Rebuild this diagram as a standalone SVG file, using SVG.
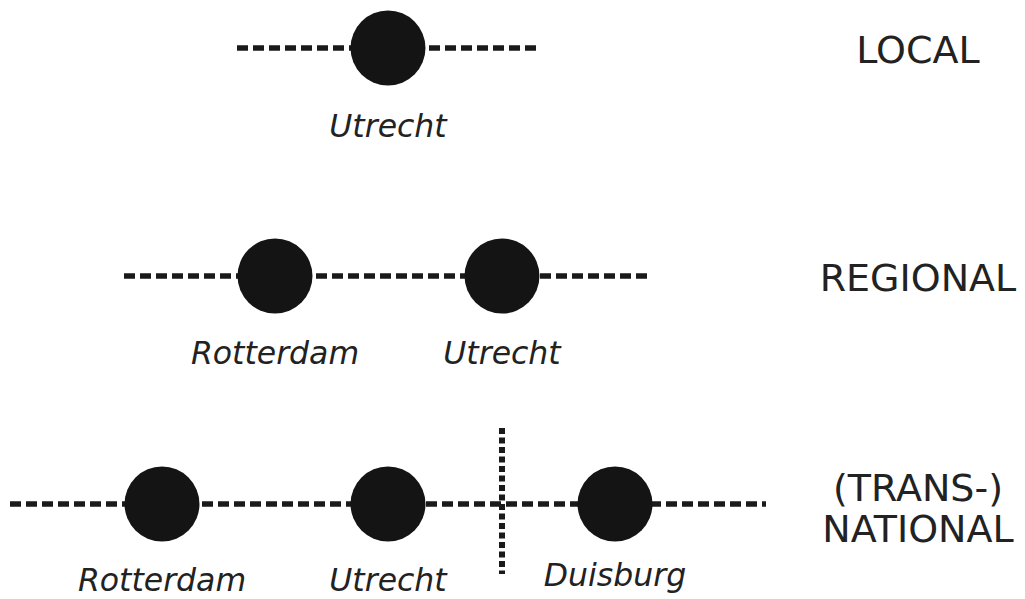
<svg xmlns="http://www.w3.org/2000/svg" width="1025" height="599" viewBox="0 0 1025 599">
  <style>
    .dash { stroke: #1a1a1a; stroke-width: 5.5; stroke-dasharray: 11 5; fill: none; }
    .dot { stroke: #1a1a1a; stroke-width: 6; stroke-dasharray: 6 3.5; fill: none; }
    .city { fill: #141414; }
    .name { font-family: "DejaVu Sans", Verdana, sans-serif; font-style: italic; font-size: 31.5px; fill: #222; text-anchor: middle; }
    .scale { font-family: "DejaVu Sans", Verdana, sans-serif; font-size: 38px; fill: #222; text-anchor: middle; }
  </style>

  <!-- connectors: rail lines and the border -->
  <g id="connectors">
    <line class="dash" x1="237" y1="48" x2="538" y2="48"/>
    <line class="dash" x1="124" y1="276" x2="652" y2="276"/>
    <line class="dash" x1="10" y1="504" x2="766" y2="504"/>
    <line id="border" class="dot" x1="502" y1="428" x2="502" y2="574"/>
  </g>

  <!-- local level -->
  <g id="local-utrecht">
    <circle class="city" cx="388" cy="48" r="37.5"/>
    <text class="name" x="388" y="137">Utrecht</text>
  </g>

  <!-- regional level -->
  <g id="regional-rotterdam">
    <circle class="city" cx="275" cy="276" r="37.5"/>
    <text class="name" x="275" y="364">Rotterdam</text>
  </g>
  <g id="regional-utrecht">
    <circle class="city" cx="502" cy="276" r="37.5"/>
    <text class="name" x="502" y="364">Utrecht</text>
  </g>

  <!-- (trans-)national level -->
  <g id="national-rotterdam">
    <circle class="city" cx="162" cy="504" r="37.5"/>
    <text class="name" x="162" y="591">Rotterdam</text>
  </g>
  <g id="national-utrecht">
    <circle class="city" cx="388" cy="504" r="37.5"/>
    <text class="name" x="388" y="591">Utrecht</text>
  </g>
  <g id="national-duisburg">
    <circle class="city" cx="615" cy="504" r="37.5"/>
    <text class="name" x="615" y="586">Duisburg</text>
  </g>

  <!-- scale labels -->
  <g id="labels">
    <text class="scale" x="918" y="63">LOCAL</text>
    <text class="scale" x="918" y="291">REGIONAL</text>
    <text class="scale" x="918" y="501">(TRANS-)</text>
    <text class="scale" x="918" y="542">NATIONAL</text>
  </g>
</svg>
